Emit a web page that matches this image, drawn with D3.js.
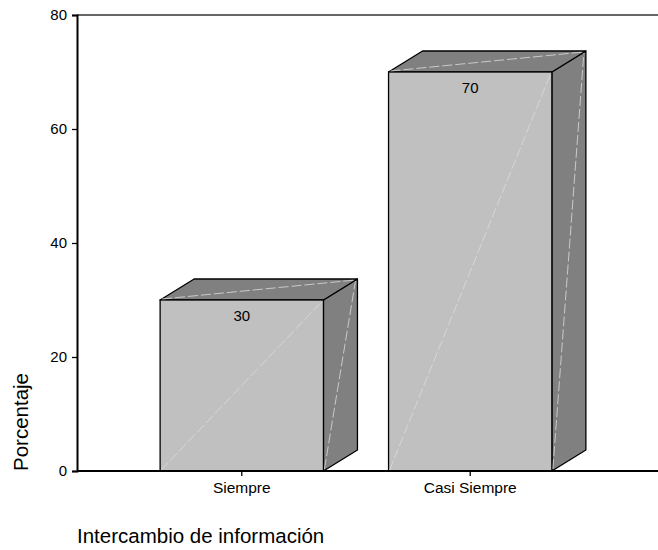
<!DOCTYPE html>
<html>
<head>
<meta charset="utf-8">
<script src="https://cdn.jsdelivr.net/npm/d3@7"></script>
<style>
  body { margin: 0; background: #fff; }
  text { font-family: "Liberation Sans", Arial, sans-serif; fill: #000; }
</style>
</head>
<body>
<div id="plot"></div>
<script>
const categories = ["Siempre", "Casi Siempre"];
const values = [30, 70];
const yTicks = [0, 20, 40, 60, 80];

const width = 658, height = 550;
const depth = { dx: 34, dy: -21 };

const svg = d3.select("#plot")
  .append("svg")
  .attr("width", width)
  .attr("height", height);

const yScale = d3.scaleLinear().domain([0, 80]).range([471, 15]);
const xScale = d3.scaleBand()
  .domain(categories)
  .range([127, 585])
  .paddingInner(0.285)
  .paddingOuter(0.145);

// top border of plot
svg.append("line")
  .attr("x1", 77).attr("x2", 658)
  .attr("y1", yScale(80)).attr("y2", yScale(80))
  .attr("stroke", "#333").attr("stroke-width", 1.3);

// bars (front, top, side)
const bars = svg.append("g").attr("class", "bars")
  .selectAll("g")
  .data(categories.map((c, i) => ({ cat: c, value: values[i] })))
  .join("g");

bars.each(function (d) {
  const g = d3.select(this);
  const x0 = xScale(d.cat), x1 = x0 + xScale.bandwidth();
  const y0 = yScale(0), y1 = yScale(d.value);
  const { dx, dy } = depth;

  // side face
  g.append("path")
    .attr("d", `M${x1},${y0} L${x1 + dx},${y0 + dy} L${x1 + dx},${y1 + dy} L${x1},${y1} Z`)
    .attr("fill", "#808080").attr("stroke", "#000").attr("stroke-width", 1.3)
    .attr("stroke-linejoin", "round");
  // top face
  g.append("path")
    .attr("d", `M${x0},${y1} L${x0 + dx},${y1 + dy} L${x1 + dx},${y1 + dy} L${x1},${y1} Z`)
    .attr("fill", "#808080").attr("stroke", "#000").attr("stroke-width", 1.3)
    .attr("stroke-linejoin", "round");
  // front face
  g.append("rect")
    .attr("x", x0).attr("y", y1)
    .attr("width", x1 - x0).attr("height", y0 - y1)
    .attr("fill", "#c0c0c0").attr("stroke", "#000").attr("stroke-width", 1.3);

  // faint diagonals
  const faint = (xa, ya, xb, yb) => g.append("line")
    .attr("x1", xa).attr("y1", ya).attr("x2", xb).attr("y2", yb)
    .attr("stroke", "#dcdcdc").attr("stroke-width", 0.8)
    .attr("stroke-dasharray", "10,3");
  faint(x0 + 1, y0 - 1, x1 - 1, y1 + 1);
  faint(x0 + 2, y1 - 1, x1 + dx - 2, y1 + dy + 1);
  faint(x1 + 1, y0 - 2, x1 + dx - 2, y1 + dy + 2);

  // value label
  g.append("text")
    .attr("x", (x0 + x1) / 2)
    .attr("y", y1 + 21)
    .attr("text-anchor", "middle")
    .style("font-size", "15px")
    .text(d.value);
});

// y axis
const yAxis = svg.append("g")
  .attr("transform", "translate(77,0)")
  .call(d3.axisLeft(yScale).tickValues(yTicks).tickSize(5).tickPadding(5));
yAxis.select(".domain").attr("stroke", "#000").attr("stroke-width", 2);
yAxis.selectAll(".tick line").attr("stroke", "#000").attr("stroke-width", 1.3);
yAxis.selectAll(".tick text")
  .style("font-size", "15px")
  .style("font-family", "'Liberation Sans', Arial, sans-serif")
  .attr("fill", "#000");

// x axis
const xAxis = svg.append("g")
  .attr("transform", `translate(0,${yScale(0)})`)
  .call(d3.axisBottom(xScale).tickSize(5).tickPadding(6).tickSizeOuter(0));
xAxis.select(".domain").attr("d", `M77,0H658`).attr("stroke", "#000").attr("stroke-width", 2);
xAxis.selectAll(".tick line").attr("stroke", "#000").attr("stroke-width", 1.3);
xAxis.selectAll(".tick text")
  .style("font-size", "15.5px")
  .style("font-family", "'Liberation Sans', Arial, sans-serif")
  .attr("fill", "#000");

// axis titles
svg.append("text")
  .attr("transform", "translate(28,422) rotate(-90)")
  .attr("text-anchor", "middle")
  .style("font-size", "20.5px")
  .text("Porcentaje");

svg.append("text")
  .attr("x", 77).attr("y", 543)
  .style("font-size", "20.5px")
  .text("Intercambio de información");
</script>
</body>
</html>
